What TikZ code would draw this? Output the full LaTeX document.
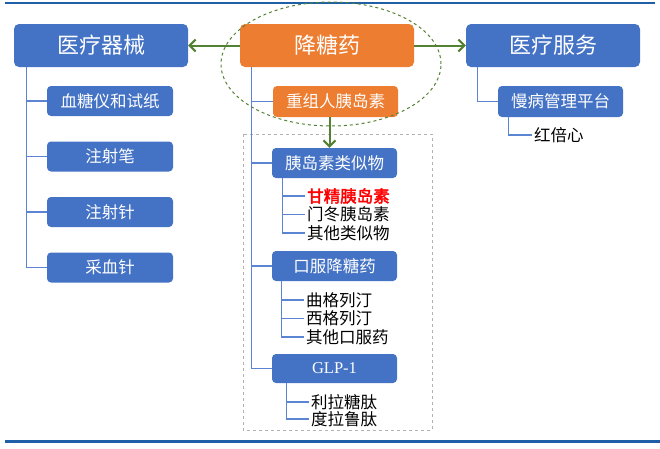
\documentclass[tikz,border=0pt]{standalone}
\usepackage{fontspec}
\setmainfont{Noto Sans CJK SC}
\newfontfamily\cjkbold{Noto Sans CJK SC}[FakeBold=2.5]
\newfontfamily\serifglp{Liberation Serif}
\usetikzlibrary{arrows.meta}
\definecolor{boxblue}{HTML}{4472C4}
\definecolor{boxorange}{HTML}{ED7D31}
\definecolor{arrgreen}{HTML}{548235}
\definecolor{linkblue}{HTML}{5B84D2}
\definecolor{rulblue}{HTML}{1F5FA8}
\tikzset{
  bigbox/.style={rounded corners=5pt, minimum width=174pt, minimum height=43pt, inner sep=0pt, text=white, font=\fontsize{22}{26}\selectfont},
  midbox/.style={rounded corners=4pt, minimum width=125pt, minimum height=30pt, inner sep=0pt, text=white, font=\fontsize{16.5}{20}\selectfont},
  leaf/.style={anchor=west, inner sep=2pt, font=\fontsize{16.5}{18}\selectfont},
  link/.style={draw=linkblue, line width=1.1pt},
  arr/.style={draw=arrgreen, line width=2pt, -{Straight Barb[length=6pt,width=12pt,line width=2pt]}},
}
\begin{document}
\begin{tikzpicture}[x=1pt,y=-1pt]
\useasboundingbox (0,0) rectangle (660,448);
% rules
\draw[rulblue, line width=1.5pt] (5,3) -- (655,3);
\draw[rulblue, line width=3pt] (5,441) -- (660,441);
% dashed frame
\draw[gray!60, dashed, line width=0.8pt] (243,134) rectangle (432,430);
% top boxes
\node[bigbox, fill=boxblue] (qx) at (101,45.5) {医疗器械};
\node[bigbox, fill=boxorange] (jty) at (327,45.5) {降糖药};
\node[bigbox, fill=boxblue] (fw) at (553,45.5) {医疗服务};
% left column
\node[midbox, fill=boxblue, minimum width=126pt] (b1) at (110,101) {血糖仪和试纸};
\node[midbox, fill=boxblue, minimum width=126pt] (b2) at (110,156.5) {注射笔};
\node[midbox, fill=boxblue, minimum width=126pt] (b3) at (110,212) {注射针};
\node[midbox, fill=boxblue, minimum width=126pt] (b4) at (110,267.5) {采血针};
% middle column
\node[midbox, fill=boxorange, minimum height=31pt] (czr) at (335.5,101.5) {重组人胰岛素};
\node[midbox, fill=boxblue] (yd) at (334.5,163) {胰岛素类似物};
\node[midbox, fill=boxblue] (kf) at (334.5,266) {口服降糖药};
\node[midbox, fill=boxblue, minimum height=29pt, font=\serifglp\fontsize{16.5}{20}\selectfont] (glp) at (334.5,368.5) {GLP-1};
% leaves
\node[leaf, text=red, font=\cjkbold\fontsize{16.5}{18}\selectfont] (l1) at (305,196) {甘精胰岛素};
\node[leaf] (l2) at (305,214.5) {门冬胰岛素};
\node[leaf] (l3) at (305,233) {其他类似物};
\node[leaf] (k1) at (304,300) {曲格列汀};
\node[leaf] (k2) at (304,318.5) {西格列汀};
\node[leaf] (k3) at (304,337) {其他口服药};
\node[leaf] (g1) at (309,402) {利拉糖肽};
\node[leaf] (g2) at (309,419) {度拉鲁肽};
% right column
\node[midbox, fill=boxblue, minimum height=31pt] (mb) at (560.5,101.5) {慢病管理平台};
\node[leaf] (hbx) at (532,135) {红倍心};
% connectors left
\draw[link] ([xshift=13pt]qx.south west) |- (b1.west);
\draw[link] ([xshift=13pt]qx.south west) |- (b2.west);
\draw[link] ([xshift=13pt]qx.south west) |- (b3.west);
\draw[link] ([xshift=13pt]qx.south west) |- (b4.west);
% connectors middle
\draw[link] ([xshift=12pt]jty.south west) |- (czr.west);
\draw[link] ([xshift=12pt]jty.south west) |- (yd.west);
\draw[link] ([xshift=12pt]jty.south west) |- (kf.west);
\draw[link] ([xshift=12pt]jty.south west) |- (glp.west);
\draw[link] ([xshift=11pt]yd.south west) |- (l1.west);
\draw[link] ([xshift=11pt]yd.south west) |- (l2.west);
\draw[link] ([xshift=11pt]yd.south west) |- (l3.west);
\draw[link] ([xshift=10pt]kf.south west) |- (k1.west);
\draw[link] ([xshift=10pt]kf.south west) |- (k2.west);
\draw[link] ([xshift=10pt]kf.south west) |- (k3.west);
\draw[link] ([xshift=15pt]glp.south west) |- (g1.west);
\draw[link] ([xshift=15pt]glp.south west) |- (g2.west);
% connectors right
\draw[link] ([xshift=12pt]fw.south west) |- (mb.west);
\draw[link] ([xshift=11pt]mb.south west) |- (hbx.west);
% arrows
\draw[arr] (jty.west) -- (qx.east);
\draw[arr] (jty.east) -- (fw.west);
\draw[arr] ([xshift=-6pt]czr.south) -- ([xshift=-5pt]yd.north);
% ellipse
\draw[arrgreen, dashed, line width=1pt] (331,64) ellipse [x radius=110pt, y radius=62pt];
\end{tikzpicture}
\end{document}
